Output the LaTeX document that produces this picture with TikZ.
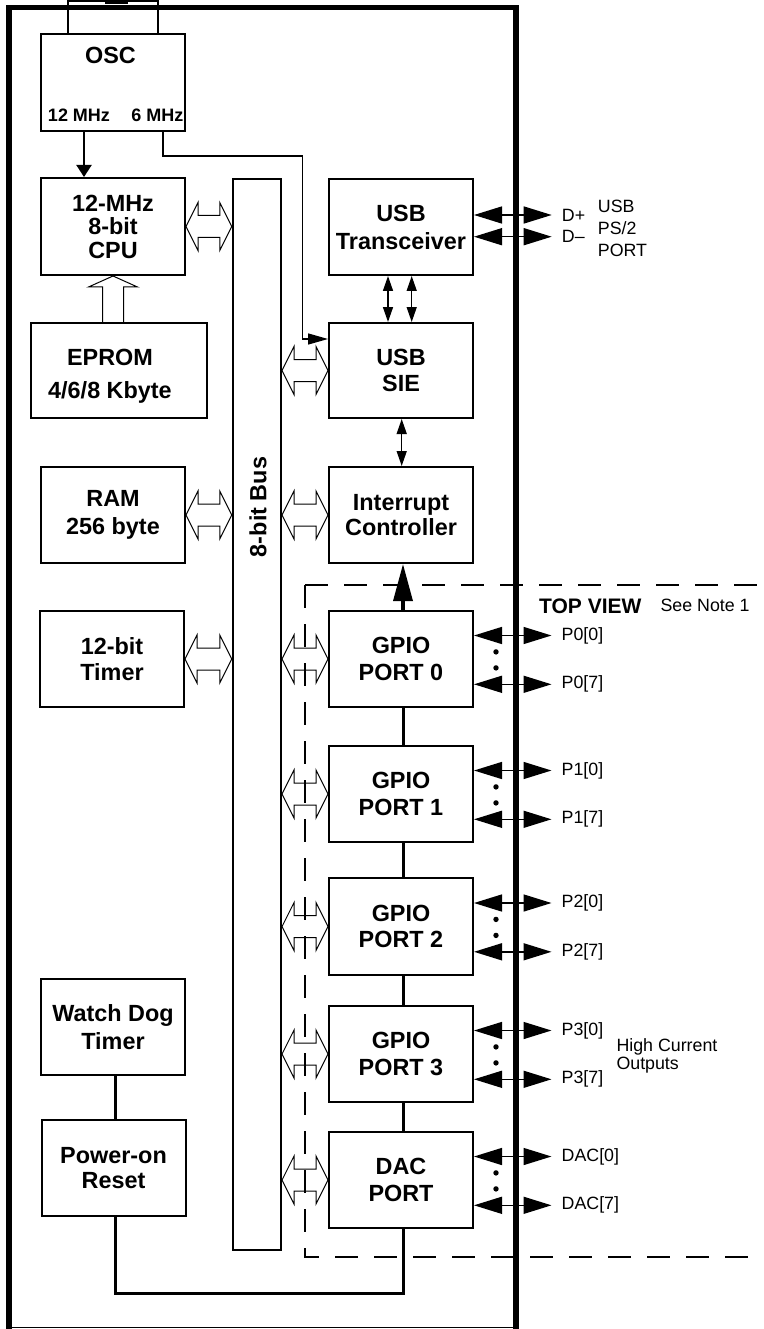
\documentclass[tikz,border=0pt]{standalone}
\usepackage{fontspec}
\setmainfont{Liberation Sans}
\usetikzlibrary{arrows.meta,calc}
\newcommand\boxfnt{\fontsize{23.4}{26.5}\selectfont\bfseries}
\newcommand\pinfnt{\fontsize{17.8}{18}\selectfont}
\newcommand\hollowH[2]{\draw[hollow] let \p1=#1, \p2=#2 in
  (\x1,\y1) -- (\x1+12pt,\y1+24pt) -- (\x1+12pt,\y1+11pt) -- (\x2-12pt,\y1+11pt)
  -- (\x2-12pt,\y1+24pt) -- (\x2,\y1) -- (\x2-12pt,\y1-24pt) -- (\x2-12pt,\y1-11pt)
  -- (\x1+12pt,\y1-11pt) -- (\x1+12pt,\y1-24pt) -- cycle;}
\tikzset{
  blk/.style={draw, line width=2pt, inner sep=0pt, align=center, font=\boxfnt,
    minimum width=144pt, minimum height=96pt},
  hollow/.style={draw, line width=1pt, line join=miter},
  pinlbl/.style={inner sep=0pt, anchor=west, font=\pinfnt},
  pinarrow/.style={line width=1.5pt, {Triangle[length=28pt,width=17pt]}-{Triangle[length=28pt,width=17pt]}},
  smallarrow/.style={line width=1.5pt, {Triangle[length=15pt,width=10pt]}-{Triangle[length=15pt,width=10pt]}},
  link/.style={line width=3pt},
  border/.style={line width=5.5pt},
  dashbox/.style={line width=2pt, dash pattern=on 23pt off 16pt},
}
\begin{document}
\begin{tikzpicture}[x=1pt,y=-1pt]
\useasboundingbox (0,0) rectangle (763,1329);
\clip (0,0) rectangle (763,1329);

% outer frame
\draw[border] (515.8,1335) -- (515.8,7.5) -- (9.2,7.5) -- (9.2,1335);
\draw[line width=1.5pt] (9.2,1327.7) -- (515.8,1327.7);

% left column
\node[blk, minimum height=97pt] (osc) at (113,82.5) {};
\node[font=\boxfnt] (osct) at (110.5,55) {OSC};
\node[font=\fontsize{18}{18}\selectfont\bfseries, inner sep=0pt] (f12) at (79,115) {12 MHz};
\node[font=\fontsize{18}{18}\selectfont\bfseries, inner sep=0pt] (f6) at (157.5,115) {6 MHz};

% crystal leads
\coordinate (xl) at (68,0.8);
\coordinate (xr) at (158,0.8);
\draw[line width=2pt] (osc.north -| xl) -- (xl) -- (xr) -- (osc.north -| xr);
\draw[line width=2.2pt] (106,-8) rectangle (127,2.5);

\node[blk, minimum height=97pt, font={\fontsize{23.4}{23.5}\selectfont\bfseries}] (cpu) at (113,226.5) {12-MHz\\8-bit\\CPU};
\node[blk, minimum width=176pt, minimum height=95pt] (eprom) at (119,370.5) {};
\node[font={\fontsize{23.4}{33.5}\selectfont\bfseries}, align=center] (epromt) at (110,376.5) {EPROM\\4/6/8 Kbyte};
\node[blk, font={\fontsize{23.4}{28}\selectfont\bfseries}] (ram) at (113,515) {RAM\\256 byte};
\node[blk] (timer) at (112,659) {12-bit\\Timer};
\node[blk, font={\fontsize{23.4}{27.3}\selectfont\bfseries}] (wdt) at (113,1027) {Watch Dog\\Timer};
\node[blk, font={\fontsize{23.4}{25}\selectfont\bfseries}] (por) at (113.5,1168) {Power-on\\Reset};

% bus
\node[draw, line width=2pt, minimum width=48.3pt, minimum height=1071pt, inner sep=0pt] (bus) at (256.9,714.5) {};
\node[rotate=90, font=\boxfnt] (buslbl) at (258,507) {8-bit Bus};

% right column
\node[blk, font={\fontsize{23.4}{28}\selectfont\bfseries}] (trx) at (401,227) {USB\\Transceiver};
\node[blk, minimum height=95pt] (sie) at (401,370.5) {USB\\SIE};
\node[blk, font={\fontsize{23.4}{25}\selectfont\bfseries}] (intc) at (401,515) {Interrupt\\Controller};
\node[blk] (g0) at (401,659) {GPIO\\PORT 0};
\node[blk] (g1) at (401,794) {GPIO\\PORT 1};
\node[blk, minimum height=97pt] (g2) at (401,926.5) {GPIO\\PORT 2};
\node[blk] (g3) at (401,1054) {GPIO\\PORT 3};
\node[blk] (dac) at (401,1180) {DAC\\PORT};

% clock arrows
\draw[line width=2pt, -{Triangle[length=12pt,width=15pt]}] ([xshift=-29pt]osc.south) -- ([xshift=-29pt]cpu.north);
\coordinate (bend6) at (302.7,156);
\draw[line width=1.5pt, -{Triangle[length=20pt,width=11pt]}] ([xshift=50pt]osc.south) |- (bend6) |- ([yshift=31.5pt]sie.west);

% EPROM -> CPU hollow arrow
\draw[hollow] let \p1=(cpu.south), \p2=(cpu.south |- eprom.north) in
  (\x1-10.5pt,\y2) -- (\x1-10.5pt,\y1-11pt) -- (\x1-24.5pt,\y1-11pt) -- (\x1,\y1)
  -- (\x1+24.5pt,\y1-11pt) -- (\x1+10.5pt,\y1-11pt) -- (\x1+10.5pt,\y2);

% bus hollow arrows
\hollowH{(cpu.east)}{(cpu.east -| bus.west)}
\hollowH{(ram.east)}{(ram.east -| bus.west)}
\hollowH{(timer.east)}{(timer.east -| bus.west)}
\hollowH{(bus.east |- sie.west)}{(sie.west)}
\hollowH{(bus.east |- intc.west)}{(intc.west)}
\hollowH{(bus.east |- g0.west)}{(g0.west)}
\hollowH{(bus.east |- g1.west)}{(g1.west)}
\hollowH{(bus.east |- g2.west)}{(g2.west)}
\hollowH{(bus.east |- g3.west)}{(g3.west)}
\hollowH{(bus.east |- dac.west)}{(dac.west)}

% USB internal arrows
\draw[smallarrow] ([xshift=-13pt]trx.south) -- ([xshift=-13pt]sie.north);
\draw[smallarrow] ([xshift=10.7pt]trx.south) -- ([xshift=10.7pt]sie.north);
\draw[smallarrow] ([xshift=0.7pt]sie.south) -- ([xshift=0.7pt]intc.north);

% GPIO to interrupt
\draw[line width=3.4pt, -{Triangle[length=37pt,width=19pt]}] ([xshift=2pt]g0.north) -- ([xshift=2pt]intc.south);
\draw[link] ([xshift=2pt]g0.south) -- ([xshift=2pt]g1.north);
\draw[link] ([xshift=2pt]g1.south) -- ([xshift=2pt]g2.north);
\draw[link] ([xshift=2pt]g2.south) -- ([xshift=2pt]g3.north);
\draw[link] ([xshift=2pt]g3.south) -- ([xshift=2pt]dac.north);

% watchdog / reset
\draw[link] ([xshift=2.5pt]wdt.south) -- ([xshift=2.5pt]wdt.south |- por.north);
\coordinate (rturn) at (403.3,1293.3);
\draw[link] ([xshift=2pt]por.south) |- (rturn) -- (rturn |- dac.south);

% USB port pins
\node[pinlbl] (dp) at (561.7,215) {D+};
\node[pinlbl] (dm) at (561.7,236.7) {D–};
\draw[pinarrow] (trx.east |- dp.west) -- ([xshift=-10pt]dp.west);
\draw[pinarrow] (trx.east |- dm.west) -- ([xshift=-10pt]dm.west);
\node[font={\fontsize{17.8}{21.7}\selectfont}, align=left, anchor=west, inner sep=0pt] (usbport) at (597.7,228.4) {USB\\PS/2\\PORT};

% dashed package outline
\draw[dashbox] (305,585) -- (770,585);
\draw[dashbox] (305,585) -- (305,1256.7) -- (770,1256.7);
\node[font={\fontsize{21}{21}\selectfont\bfseries}, anchor=west, inner sep=0pt] (topview) at (539,606.7) {TOP VIEW};
\node[pinlbl] (note) at (660.4,605) {See Note 1};

% GPIO pins
\node[pinlbl] (p00) at (561.5,635.5) {P0[0]};
\node[pinlbl] (p07) at (561.5,684.3) {P0[7]};
\node[pinlbl] (p10) at (561.5,770.5) {P1[0]};
\node[pinlbl] (p17) at (561.5,819.3) {P1[7]};
\node[pinlbl] (p20) at (561.5,903) {P2[0]};
\node[pinlbl] (p27) at (561.5,951.8) {P2[7]};
\node[pinlbl] (p30) at (561.5,1030.5) {P3[0]};
\node[pinlbl] (p37) at (561.5,1079.3) {P3[7]};
\node[pinlbl] (d0) at (561.5,1156.5) {DAC[0]};
\node[pinlbl] (d7) at (561.5,1205.3) {DAC[7]};
\foreach \b/\a/\c in {g0/p00/p07, g1/p10/p17, g2/p20/p27, g3/p30/p37, dac/d0/d7}{
  \draw[pinarrow] (\b.east |- \a.west) -- ([xshift=-10pt]\a.west);
  \draw[pinarrow] (\b.east |- \c.west) -- ([xshift=-10pt]\c.west);
  \fill let \p1=(\a.west), \p2=(\c.west) in
    (496pt,0.5*\y1+0.5*\y2+8pt) circle[radius=2.7pt]
    (496pt,0.5*\y1+0.5*\y2-8pt) circle[radius=2.7pt];
}
\node[font={\fontsize{17.8}{17.3}\selectfont}, align=left, anchor=west, inner sep=0pt] (hc) at (616.3,1056) {High Current\\Outputs};
\end{tikzpicture}
\end{document}
